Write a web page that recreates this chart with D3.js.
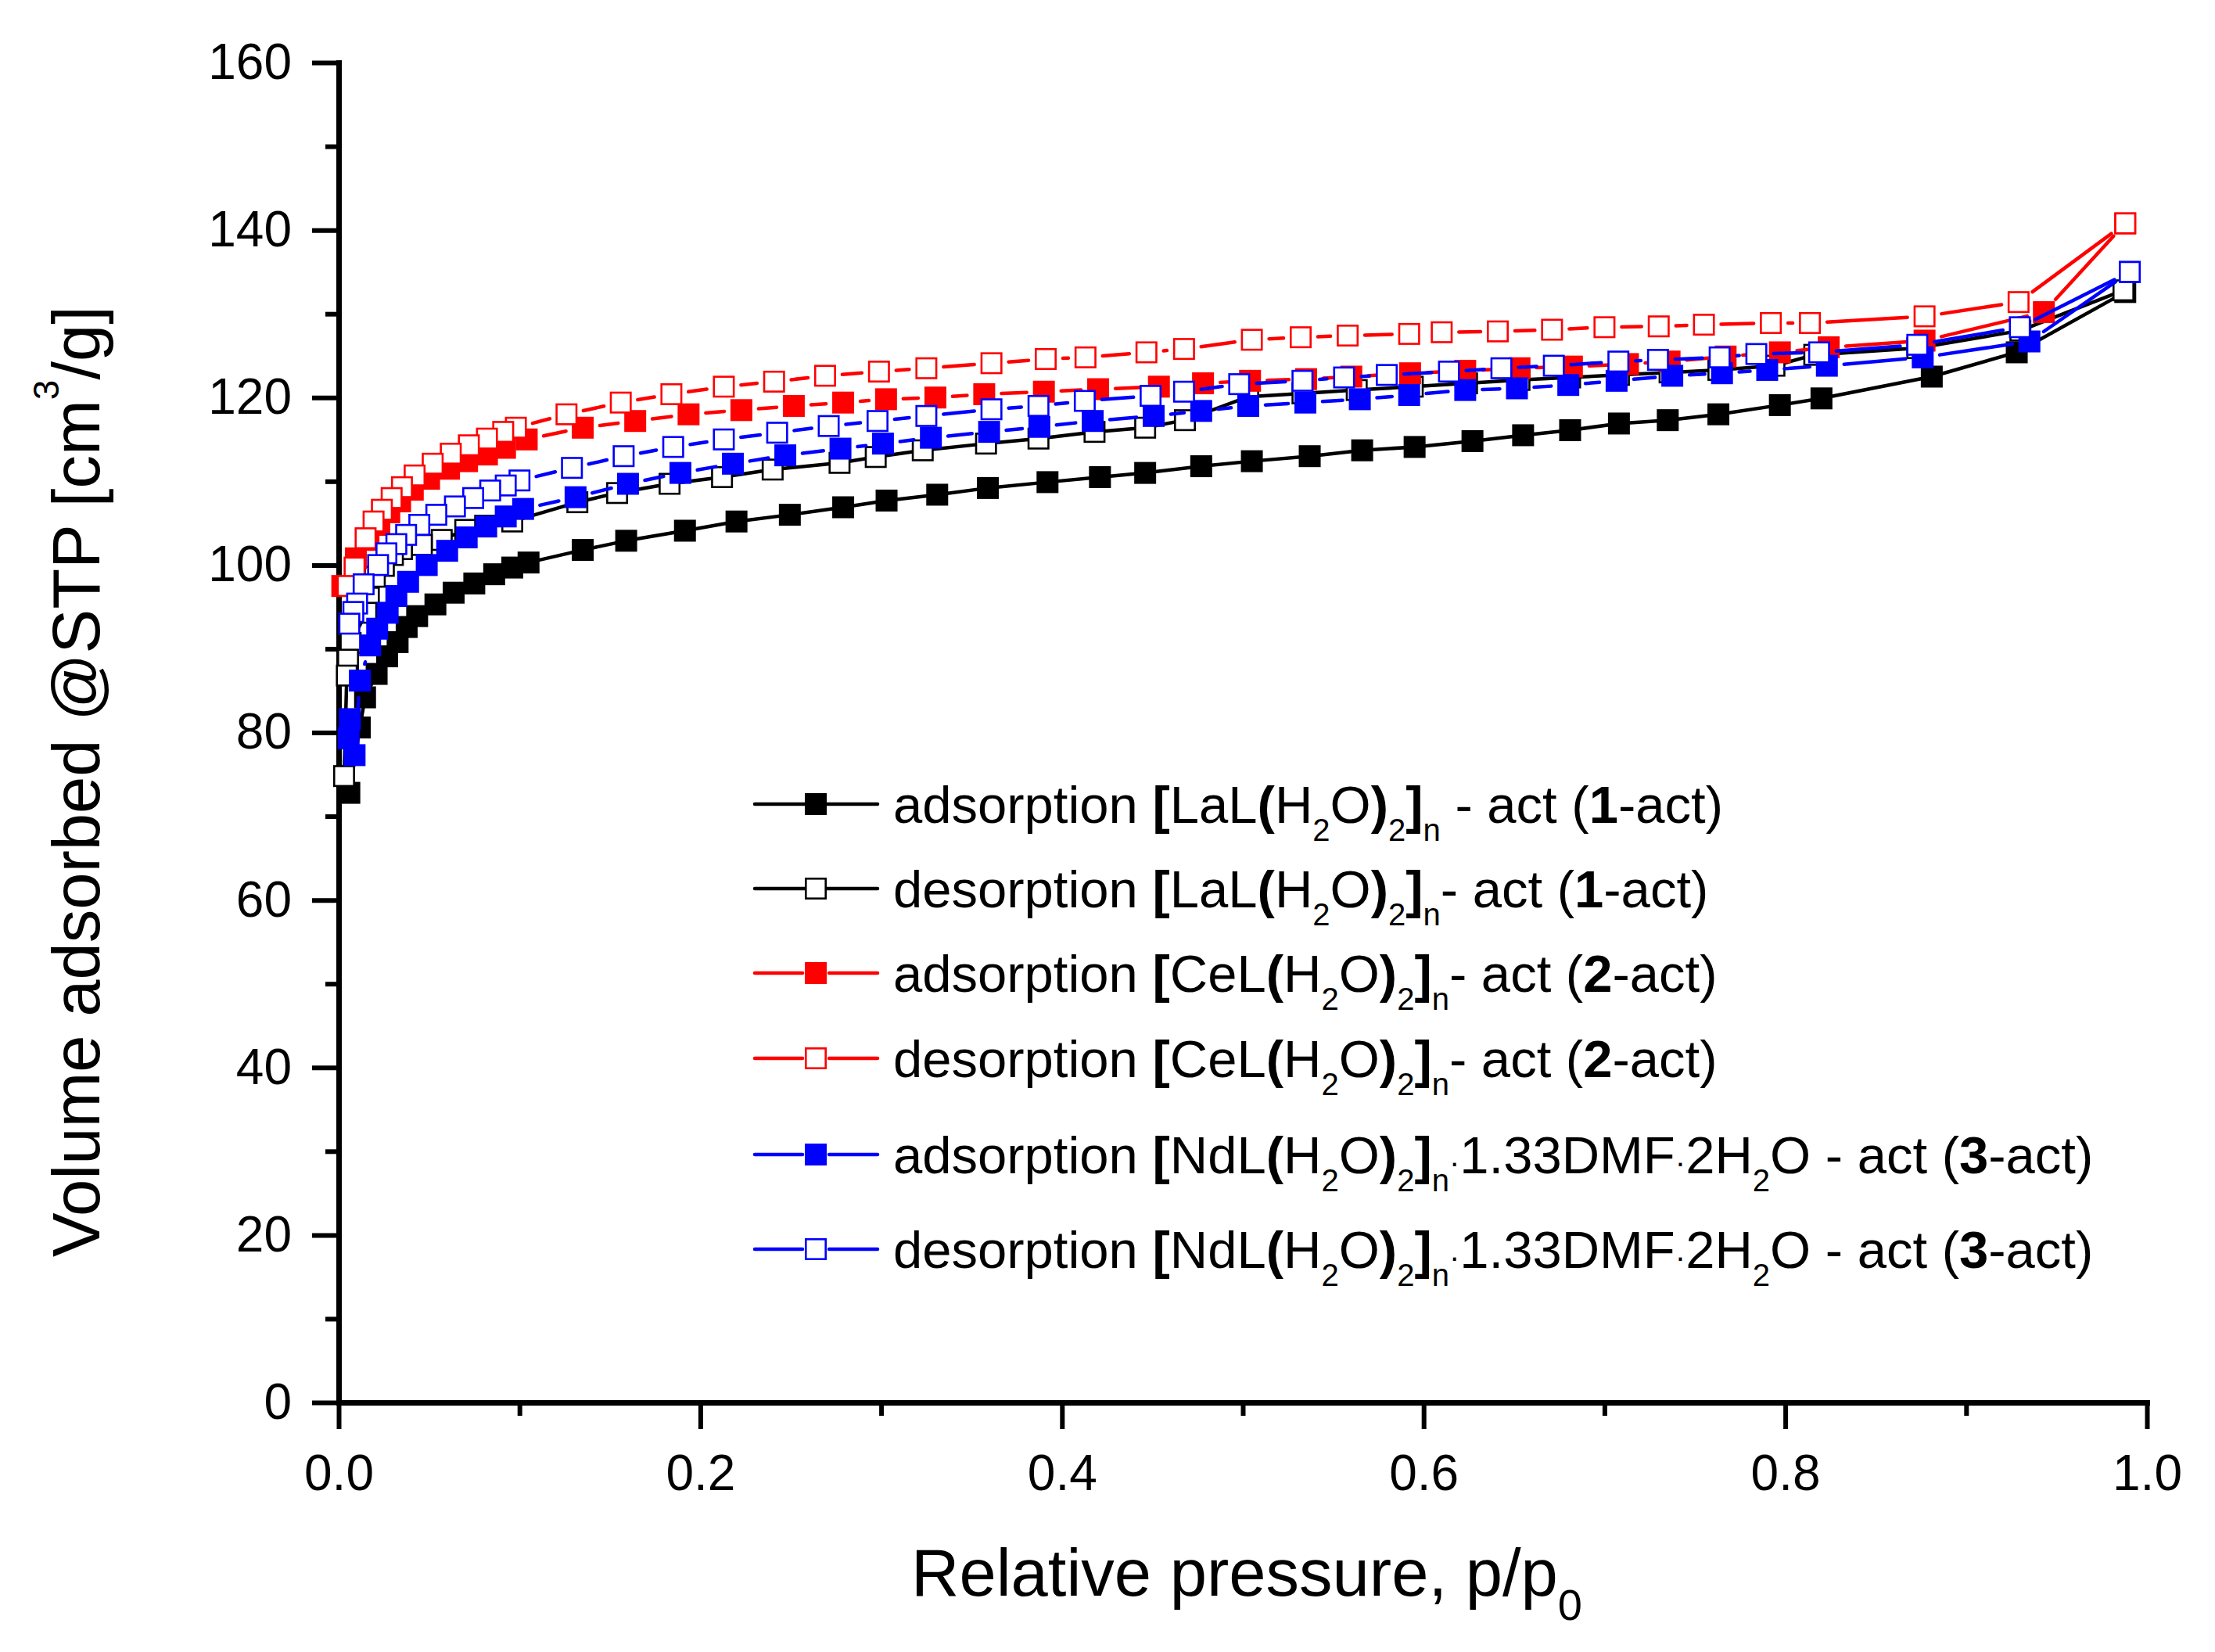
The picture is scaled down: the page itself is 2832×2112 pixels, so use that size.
<!DOCTYPE html>
<html>
<head>
<meta charset="utf-8">
<title>N2 isotherms</title>
<script src="https://d3js.org/d3.v7.min.js"></script>
<style>
  body { margin: 0; background: #fff; }
  svg text { font-family: "Liberation Sans", Arial, sans-serif; fill: #000; }
</style>
</head>
<body>
<div id="chart"></div>
<script>
// [p/p0, volume]
const ads1 = [[0.0059,72.8],[0.0117,80.6],[0.0146,84.2],[0.021,87.0],[0.0268,89.1],[0.0326,90.8],[0.0376,92.6],[0.0434,93.9],[0.0535,95.3],[0.0636,96.7],[0.075,97.8],[0.086,98.9],[0.096,99.7],[0.105,100.3],[0.135,101.8],[0.159,102.9],[0.1915,104.1],[0.220,105.2],[0.2495,106.0],[0.279,106.9],[0.303,107.7],[0.331,108.4],[0.359,109.2],[0.392,109.9],[0.421,110.5],[0.446,111.0],[0.477,111.8],[0.505,112.4],[0.537,113.0],[0.566,113.7],[0.595,114.1],[0.627,114.8],[0.655,115.5],[0.681,116.1],[0.708,116.9],[0.735,117.3],[0.763,118.0],[0.797,119.1],[0.820,119.9],[0.881,122.5],[0.928,125.4],[0.988,132.6]];
const des1 = [[0.987,132.8],[0.930,128.0],[0.873,125.9],[0.816,125.1],[0.794,123.8],[0.763,123.3],[0.736,123.0],[0.708,122.7],[0.681,122.4],[0.653,122.1],[0.624,121.7],[0.594,121.3],[0.563,120.9],[0.533,120.5],[0.503,120.1],[0.468,117.3],[0.446,116.4],[0.418,115.9],[0.387,115.1],[0.358,114.5],[0.323,113.7],[0.297,112.9],[0.277,112.2],[0.240,111.4],[0.212,110.5],[0.183,109.7],[0.154,108.6],[0.132,107.5],[0.096,105.2],[0.081,104.7],[0.070,104.2],[0.057,103.0],[0.046,102.4],[0.035,101.9],[0.030,101.2],[0.025,99.9],[0.020,98.6],[0.0167,96.1],[0.0153,94.3],[0.0066,90.7],[0.0052,88.7],[0.0045,86.8],[0.003,74.8]];
const ads2 = [[0.002,97.5],[0.0095,100.8],[0.0165,103.0],[0.0225,104.8],[0.028,106.3],[0.034,107.6],[0.041,109.0],[0.050,110.3],[0.061,111.5],[0.071,112.4],[0.082,113.2],[0.092,114.0],[0.104,115.0],[0.135,116.4],[0.164,117.2],[0.1935,118.0],[0.2227,118.5],[0.2517,119.0],[0.279,119.4],[0.3027,119.8],[0.330,120.0],[0.357,120.4],[0.390,120.7],[0.420,121.0],[0.4536,121.3],[0.478,121.7],[0.504,122.0],[0.535,122.2],[0.560,122.5],[0.5925,122.9],[0.623,123.2],[0.653,123.5],[0.682,123.7],[0.713,124.0],[0.736,124.3],[0.767,124.9],[0.797,125.4],[0.824,126.0],[0.877,126.8],[0.943,130.2],[0.988,140.8]];
const des2 = [[0.988,140.8],[0.929,131.4],[0.877,129.7],[0.8136,128.9],[0.792,128.9],[0.755,128.7],[0.730,128.5],[0.700,128.4],[0.671,128.1],[0.641,127.9],[0.610,127.8],[0.592,127.6],[0.558,127.4],[0.532,127.2],[0.505,126.9],[0.4675,125.8],[0.4467,125.4],[0.413,124.8],[0.391,124.6],[0.361,124.1],[0.325,123.5],[0.2988,123.1],[0.269,122.6],[0.2408,121.9],[0.213,121.3],[0.184,120.4],[0.156,119.4],[0.126,118.0],[0.098,116.4],[0.091,115.9],[0.082,115.1],[0.072,114.3],[0.062,113.3],[0.052,112.1],[0.042,110.7],[0.035,109.3],[0.0293,108.0],[0.0239,106.6],[0.0193,105.2],[0.0149,103.2],[0.0088,99.7],[0.005,97.5]];
const ads3 = [[0.0055,79.3],[0.0062,81.6],[0.0088,77.3],[0.0117,86.2],[0.0174,90.4],[0.0213,92.4],[0.0271,94.3],[0.0319,96.3],[0.0384,98.0],[0.0487,100.0],[0.060,101.7],[0.0708,103.3],[0.0816,104.6],[0.0924,105.8],[0.102,106.7],[0.131,108.1],[0.160,109.7],[0.189,111.0],[0.218,112.1],[0.247,113.1],[0.2775,113.9],[0.301,114.5],[0.3275,115.2],[0.3597,115.9],[0.3875,116.5],[0.417,117.2],[0.4507,117.8],[0.477,118.4],[0.503,119.0],[0.5346,119.4],[0.5647,119.8],[0.592,120.3],[0.623,120.9],[0.6516,121.1],[0.680,121.5],[0.7067,122.0],[0.7375,122.6],[0.765,122.9],[0.790,123.3],[0.823,123.8],[0.876,124.8],[0.935,126.7],[0.9905,135.0]];
const des3 = [[0.9905,135.0],[0.9297,128.4],[0.873,126.3],[0.8187,125.4],[0.784,125.2],[0.7637,124.8],[0.7296,124.5],[0.7077,124.3],[0.672,123.8],[0.643,123.5],[0.614,123.1],[0.5796,122.7],[0.556,122.4],[0.533,122.0],[0.498,121.6],[0.4675,120.7],[0.449,120.2],[0.4126,119.6],[0.387,119.0],[0.361,118.6],[0.325,117.8],[0.298,117.2],[0.271,116.6],[0.2425,115.8],[0.213,115.0],[0.185,114.1],[0.1576,113.0],[0.129,111.6],[0.100,110.1],[0.0924,109.5],[0.0838,108.9],[0.0744,108.0],[0.0643,107.0],[0.054,106.0],[0.0446,104.8],[0.0373,103.6],[0.0319,102.5],[0.0264,101.4],[0.0218,100.0],[0.0138,97.7],[0.0102,95.4],[0.0081,94.4],[0.0059,93.0]];

const xTicks = [0, 0.2, 0.4, 0.6, 0.8, 1.0];
const xMinor = [0.1, 0.3, 0.5, 0.7, 0.9];
const yTicks = [0, 20, 40, 60, 80, 100, 120, 140, 160];
const yMinor = [10, 30, 50, 70, 90, 110, 130, 150];

// legend label pieces: "" normal, b bold, s subscript, d small dot
const legendLabels = [
  [["adsorption ",""],["[","b"],["LaL",""],["(","b"],["H",""],["2","s"],["O",""],[")","b"],["2","s"],["]","b"],["n","s"],[" - act (",""],["1","b"],["-act)",""]],
  [["desorption ",""],["[","b"],["LaL",""],["(","b"],["H",""],["2","s"],["O",""],[")","b"],["2","s"],["]","b"],["n","s"],["- act (",""],["1","b"],["-act)",""]],
  [["adsorption ",""],["[","b"],["CeL",""],["(","b"],["H",""],["2","s"],["O",""],[")","b"],["2","s"],["]","b"],["n","s"],["- act (",""],["2","b"],["-act)",""]],
  [["desorption ",""],["[","b"],["CeL",""],["(","b"],["H",""],["2","s"],["O",""],[")","b"],["2","s"],["]","b"],["n","s"],["- act (",""],["2","b"],["-act)",""]],
  [["adsorption ",""],["[","b"],["NdL",""],["(","b"],["H",""],["2","s"],["O",""],[")","b"],["2","s"],["]","b"],["n","s"],["\u00b7","d"],["1.33DMF",""],["\u00b7","d"],["2H",""],["2","s"],["O - act (",""],["3","b"],["-act)",""]],
  [["desorption ",""],["[","b"],["NdL",""],["(","b"],["H",""],["2","s"],["O",""],[")","b"],["2","s"],["]","b"],["n","s"],["\u00b7","d"],["1.33DMF",""],["\u00b7","d"],["2H",""],["2","s"],["O - act (",""],["3","b"],["-act)",""]]
];

const series = [
  { data: ads1, color: "#000000", open: false, gap: 0 },
  { data: des1, color: "#000000", open: true,  gap: 0 },
  { data: ads2, color: "#ff0000", open: false, gap: 22 },
  { data: des2, color: "#ff0000", open: true,  gap: 22 },
  { data: ads3, color: "#0000ff", open: false, gap: 22 },
  { data: des3, color: "#0000ff", open: true,  gap: 22 }
];

const W = 2832, H = 2112;
const plotLeft = 433, plotRight = 2745, plotTop = 80, plotBottom = 1793;
const markSize = 28, lineW = 4.5, openW = 2.6;
const font = '"Liberation Sans", Arial, sans-serif';

const svg = d3.select("#chart").append("svg")
  .attr("width", W).attr("height", H)
  .style("background", "#fff");

const x = d3.scaleLinear().domain([0, 1]).range([plotLeft, plotRight]);
const y = d3.scaleLinear().domain([0, 160]).range([plotBottom, plotTop]);

// axes
function styleAxis(g) {
  g.attr("font-family", font).attr("font-size", 64);
  g.select(".domain").attr("stroke-width", 7).attr("stroke-linecap", "square");
  g.selectAll(".tick line").attr("stroke-width", 6);
  g.selectAll(".tick text").attr("fill", "#000");
}

svg.append("g")
  .attr("transform", `translate(0,${plotBottom})`)
  .call(d3.axisBottom(x).tickValues(xMinor).tickSize(17).tickFormat(""))
  .call(g => { g.select(".domain").remove(); g.selectAll(".tick line").attr("stroke-width", 6); });
svg.append("g")
  .attr("transform", `translate(${plotLeft},0)`)
  .call(d3.axisLeft(y).tickValues(yMinor).tickSize(17).tickFormat(""))
  .call(g => { g.select(".domain").remove(); g.selectAll(".tick line").attr("stroke-width", 6); });

svg.append("g")
  .attr("transform", `translate(0,${plotBottom})`)
  .call(d3.axisBottom(x).tickValues(xTicks).tickSize(34).tickSizeOuter(0)
    .tickPadding(33).tickFormat(d3.format(".1f")))
  .call(styleAxis);
svg.append("g")
  .attr("transform", `translate(${plotLeft},0)`)
  .call(d3.axisLeft(y).tickValues(yTicks).tickSize(34).tickSizeOuter(0)
    .tickPadding(26).tickFormat(d3.format("d")))
  .call(styleAxis);

// segments that stop short of the markers, like the original plot
function gapSegments(pts, cut) {
  const segs = [];
  for (let i = 0; i < pts.length - 1; i++) {
    const [x1, y1] = pts[i], [x2, y2] = pts[i + 1];
    const dx = x2 - x1, dy = y2 - y1, len = Math.hypot(dx, dy);
    if (len <= 2 * cut + 1) continue;
    const ux = dx / len, uy = dy / len;
    segs.push([x1 + ux * cut, y1 + uy * cut, x2 - ux * cut, y2 - uy * cut]);
  }
  return segs;
}

function drawMarker(g, cx, cy, s) {
  if (s.open) {
    g.append("rect")
      .attr("x", cx - (markSize - openW) / 2).attr("y", cy - (markSize - openW) / 2)
      .attr("width", markSize - openW).attr("height", markSize - openW)
      .attr("fill", "#fff").attr("stroke", s.color).attr("stroke-width", openW);
  } else {
    g.append("rect")
      .attr("x", cx - markSize / 2).attr("y", cy - markSize / 2)
      .attr("width", markSize).attr("height", markSize)
      .attr("fill", s.color);
  }
}

series.forEach(s => {
  const g = svg.append("g");
  const pts = s.data.map(d => [x(d[0]), y(d[1])]);
  if (s.gap > 0) {
    g.selectAll("line").data(gapSegments(pts, s.gap)).enter().append("line")
      .attr("x1", d => d[0]).attr("y1", d => d[1])
      .attr("x2", d => d[2]).attr("y2", d => d[3])
      .attr("stroke", s.color).attr("stroke-width", lineW)
      .attr("stroke-linecap", "round");
  } else {
    g.append("path")
      .attr("d", d3.line()(pts))
      .attr("fill", "none").attr("stroke", s.color)
      .attr("stroke-width", lineW).attr("stroke-linejoin", "round");
  }
  pts.forEach(p => drawMarker(g, p[0], p[1], s));
});

// rich text helper: subscripts via dy shifts
function richText(t, parts, size) {
  let shift = 0;
  parts.forEach(([str, k]) => {
    const ts = t.append("tspan").text(str);
    const target = k === "s" ? Math.round(size * 0.34) : 0;
    ts.attr("dy", target - shift);
    shift = target;
    if (k === "b") ts.attr("font-weight", "bold");
    if (k === "s") ts.attr("font-size", Math.round(size * 0.6));
    if (k === "d") ts.attr("font-size", Math.round(size * 0.6));
  });
}

// legend
const legendRows = [1028, 1136, 1244, 1353, 1476, 1597];
const lgX0 = 965, lgX1 = 1122, lgMid = 1043, lgText = 1142, lgSize = 67;
series.forEach((s, i) => {
  const g = svg.append("g");
  const ry = legendRows[i];
  if (s.gap > 0) {
    [[lgX0, lgMid - 17], [lgMid + 17, lgX1]].forEach(seg => {
      g.append("line").attr("x1", seg[0]).attr("x2", seg[1]).attr("y1", ry).attr("y2", ry)
        .attr("stroke", s.color).attr("stroke-width", lineW).attr("stroke-linecap", "round");
    });
  } else {
    g.append("line").attr("x1", lgX0).attr("x2", lgX1).attr("y1", ry).attr("y2", ry)
      .attr("stroke", s.color).attr("stroke-width", lineW).attr("stroke-linecap", "round");
  }
  drawMarker(g, lgMid, ry, s);
  const t = g.append("text")
    .attr("x", lgText).attr("y", ry + 24)
    .attr("font-size", lgSize)
    .style("white-space", "pre");
  richText(t, legendLabels[i], lgSize);
});

// axis titles
const xt = svg.append("text")
  .attr("x", 1165).attr("y", 2040)
  .attr("font-size", 85).style("white-space", "pre");
xt.append("tspan").text("Relative pressure, p/p");
xt.append("tspan").text("0").attr("font-size", 56).attr("dy", 31);

const yt = svg.append("text")
  .attr("transform", "translate(127,1607) rotate(-90)")
  .attr("font-size", 85).style("white-space", "pre");
yt.append("tspan").text("Volume adsorbed @STP [cm");
yt.append("tspan").text("3").attr("font-size", 46).attr("dy", -52);
yt.append("tspan").text("/g]").attr("dy", 52);
</script>
</body>
</html>
